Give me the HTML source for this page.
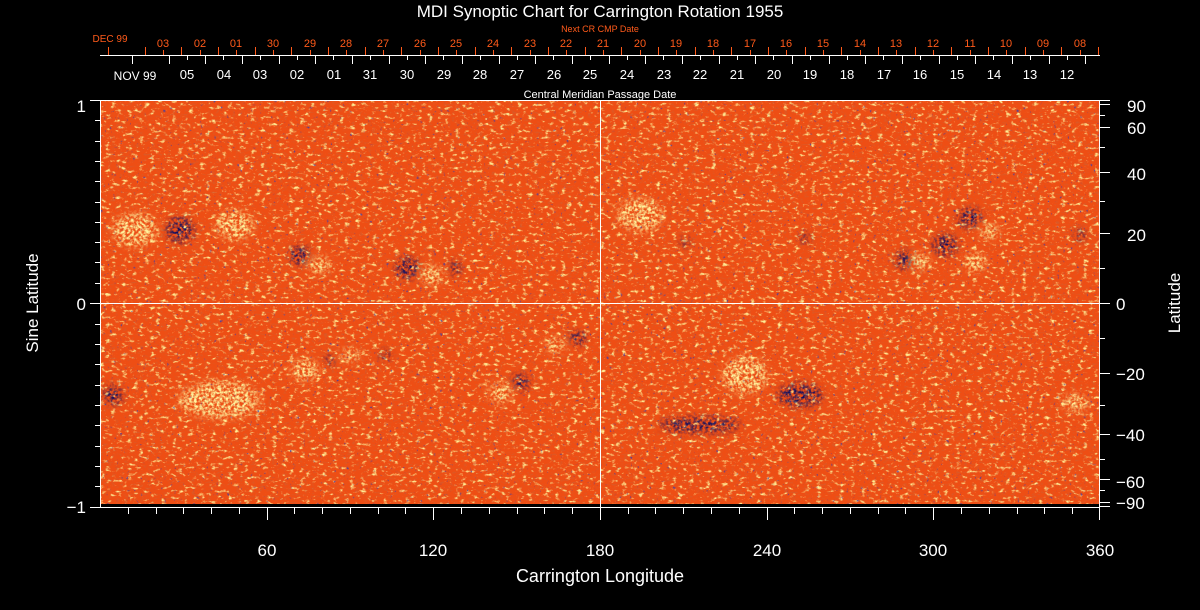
<!DOCTYPE html>
<html><head><meta charset="utf-8"><style>
html,body{margin:0;padding:0;background:#000;}
svg{display:block;font-family:"Liberation Sans",sans-serif;}
</style></head><body>
<svg width="1200" height="610" viewBox="0 0 1200 610" xmlns="http://www.w3.org/2000/svg">
<defs>
<filter id="yel" x="0" y="0" width="100%" height="100%">
<feTurbulence type="fractalNoise" baseFrequency="0.18 0.3" numOctaves="3" seed="3"/>
<feColorMatrix type="matrix" values="0 0 0 0 1  0 0 0 0 0.85  0 0 0 0 0.3  4 0 0 0 -2.3"/>
</filter>
<filter id="drk" x="0" y="0" width="100%" height="100%">
<feTurbulence type="fractalNoise" baseFrequency="0.25 0.5" numOctaves="3" seed="9"/>
<feColorMatrix type="matrix" values="0 0 0 0 0.7  0 0 0 0 0.1  0 0 0 0 0.02  0 4 0 0 -2.2"/>
</filter>
<filter id="blu" x="0" y="0" width="100%" height="100%">
<feTurbulence type="fractalNoise" baseFrequency="0.3" numOctaves="2" seed="17"/>
<feColorMatrix type="matrix" values="0 0 0 0 0.05  0 0 0 0 0.05  0 0 0 0 0.4  0 0 6 0 -4.2"/>
</filter>
<filter id="spk" x="-20%" y="-20%" width="140%" height="140%">
<feGaussianBlur in="SourceGraphic" stdDeviation="4" result="b"/>
<feTurbulence type="fractalNoise" baseFrequency="0.35" numOctaves="2" seed="5" result="t"/>
<feColorMatrix in="t" type="matrix" values="0 0 0 0 0  0 0 0 0 0  0 0 0 0 0  3 0 0 0 -1.1" result="m"/>
<feComposite in="b" in2="m" operator="in"/>
</filter>
</defs>
<text x="600" y="17" fill="#fff" font-size="17" text-anchor="middle">MDI Synoptic Chart for Carrington Rotation 1955</text>
<text x="600" y="32" fill="#ff5a1a" font-size="9" text-anchor="middle">Next CR CMP Date</text>
<text x="110" y="42" fill="#ff5a1a" font-size="10" text-anchor="middle">DEC 99</text>
<g fill="#ff5a1a" font-size="11" text-anchor="middle">
<text x="163" y="47">03</text><text x="200" y="47">02</text><text x="236" y="47">01</text><text x="273" y="47">30</text><text x="310" y="47">29</text><text x="346" y="47">28</text><text x="383" y="47">27</text><text x="420" y="47">26</text><text x="456" y="47">25</text><text x="493" y="47">24</text><text x="530" y="47">23</text><text x="566" y="47">22</text><text x="603" y="47">21</text><text x="640" y="47">20</text><text x="676" y="47">19</text><text x="713" y="47">18</text><text x="750" y="47">17</text><text x="786" y="47">16</text><text x="823" y="47">15</text><text x="860" y="47">14</text><text x="896" y="47">13</text><text x="933" y="47">12</text><text x="970" y="47">11</text><text x="1006" y="47">10</text><text x="1043" y="47">09</text><text x="1080" y="47">08</text>
</g>
<g stroke="#ff5a1a" stroke-width="1">
<path d="M108.5 47v8M145.5 47v8M181.5 47v8M218.5 47v8M255.5 47v8M291.5 47v8M328.5 47v8M365.5 47v8M401.5 47v8M438.5 47v8M475.5 47v8M511.5 47v8M548.5 47v8M585.5 47v8M621.5 47v8M658.5 47v8M695.5 47v8M731.5 47v8M768.5 47v8M805.5 47v8M841.5 47v8M878.5 47v8M915.5 47v8M951.5 47v8M988.5 47v8M1025.5 47v8M1061.5 47v8M1098.5 47v8"/>
<path d="M163.5 50v5M200.5 50v5M236.5 50v5M273.5 50v5M310.5 50v5M346.5 50v5M383.5 50v5M420.5 50v5M456.5 50v5M493.5 50v5M530.5 50v5M566.5 50v5M603.5 50v5M640.5 50v5M676.5 50v5M713.5 50v5M750.5 50v5M786.5 50v5M823.5 50v5M860.5 50v5M896.5 50v5M933.5 50v5M970.5 50v5M1006.5 50v5M1043.5 50v5M1080.5 50v5"/>
</g>
<line x1="100" y1="55.5" x2="1100" y2="55.5" stroke="#fff"/>
<g stroke="#fff">
<path d="M132.5 56v8M169.5 56v8M205.5 56v8M242.5 56v8M279.5 56v8M315.5 56v8M352.5 56v8M389.5 56v8M425.5 56v8M462.5 56v8M499.5 56v8M535.5 56v8M572.5 56v8M609.5 56v8M645.5 56v8M682.5 56v8M719.5 56v8M755.5 56v8M792.5 56v8M829.5 56v8M865.5 56v8M902.5 56v8M939.5 56v8M975.5 56v8M1012.5 56v8M1049.5 56v8M1085.5 56v8"/>
<path d="M187.5 56v4M223.5 56v4M260.5 56v4M297.5 56v4M333.5 56v4M370.5 56v4M407.5 56v4M443.5 56v4M480.5 56v4M517.5 56v4M553.5 56v4M590.5 56v4M627.5 56v4M663.5 56v4M700.5 56v4M737.5 56v4M773.5 56v4M810.5 56v4M847.5 56v4M883.5 56v4M920.5 56v4M957.5 56v4M993.5 56v4M1030.5 56v4M1067.5 56v4"/>
</g>
<text x="135" y="80" fill="#fff" font-size="12" text-anchor="middle">NOV 99</text>
<g fill="#fff" font-size="13" text-anchor="middle">
<text x="187" y="79">05</text><text x="224" y="79">04</text><text x="260" y="79">03</text><text x="297" y="79">02</text><text x="334" y="79">01</text><text x="370" y="79">31</text><text x="407" y="79">30</text><text x="444" y="79">29</text><text x="480" y="79">28</text><text x="517" y="79">27</text><text x="554" y="79">26</text><text x="590" y="79">25</text><text x="627" y="79">24</text><text x="664" y="79">23</text><text x="700" y="79">22</text><text x="737" y="79">21</text><text x="774" y="79">20</text><text x="810" y="79">19</text><text x="847" y="79">18</text><text x="884" y="79">17</text><text x="920" y="79">16</text><text x="957" y="79">15</text><text x="994" y="79">14</text><text x="1030" y="79">13</text><text x="1067" y="79">12</text>
</g>
<text x="600" y="98" fill="#fff" font-size="11" text-anchor="middle">Central Meridian Passage Date</text>
<!-- map -->
<rect x="101" y="101" width="998" height="403" fill="#ee4e14"/>
<rect x="101" y="101" width="998" height="403" filter="url(#drk)"/>
<rect x="101" y="101" width="998" height="403" filter="url(#yel)"/>
<rect x="101" y="101" width="998" height="403" filter="url(#blu)" opacity="0.8"/>
<g filter="url(#spk)">
<g fill="#fff6a0">
<ellipse cx="135" cy="230" rx="22" ry="16"/><ellipse cx="235" cy="225" rx="18" ry="14"/><ellipse cx="320" cy="265" rx="10" ry="8"/><ellipse cx="432" cy="275" rx="10" ry="9"/><ellipse cx="640" cy="215" rx="22" ry="16"/><ellipse cx="920" cy="262" rx="9" ry="8"/><ellipse cx="975" cy="262" rx="10" ry="9"/><ellipse cx="990" cy="232" rx="9" ry="7"/><ellipse cx="305" cy="370" rx="13" ry="10"/><ellipse cx="350" cy="355" rx="9" ry="6"/><ellipse cx="500" cy="393" rx="11" ry="9"/><ellipse cx="555" cy="345" rx="9" ry="7"/><ellipse cx="745" cy="375" rx="22" ry="18"/><ellipse cx="1075" cy="403" rx="12" ry="8"/><ellipse cx="220" cy="400" rx="40" ry="18"/>
</g>
<g fill="#0c0c60">
<ellipse cx="180" cy="230" rx="14" ry="12"/><ellipse cx="300" cy="255" rx="10" ry="9"/><ellipse cx="408" cy="268" rx="12" ry="10"/><ellipse cx="455" cy="268" rx="5" ry="7"/><ellipse cx="685" cy="242" rx="4" ry="4"/><ellipse cx="805" cy="238" rx="5" ry="4"/><ellipse cx="905" cy="260" rx="9" ry="9"/><ellipse cx="945" cy="245" rx="12" ry="10"/><ellipse cx="970" cy="218" rx="12" ry="9"/><ellipse cx="1080" cy="235" rx="5" ry="5"/><ellipse cx="520" cy="382" rx="9" ry="7"/><ellipse cx="577" cy="338" rx="9" ry="6"/><ellipse cx="385" cy="355" rx="5" ry="4"/><ellipse cx="330" cy="360" rx="5" ry="4"/><ellipse cx="800" cy="395" rx="22" ry="11"/><ellipse cx="700" cy="425" rx="40" ry="7"/><ellipse cx="113" cy="395" rx="9" ry="9"/>
</g>
</g>
<line x1="600.5" y1="100" x2="600.5" y2="508" stroke="#fff"/>
<line x1="100" y1="303.5" x2="1100" y2="303.5" stroke="#fff"/>
<rect x="100.5" y="100.5" width="999" height="407" fill="none" stroke="#fff"/>
<g stroke="#fff">
<path d="M90 100.5h10M90 303.5h10M90 507.5h10M95 120.5h5M95 141.5h5M95 161.5h5M95 181.5h5M95 202.5h5M95 222.5h5M95 242.5h5M95 262.5h5M95 283.5h5M95 324.5h5M95 344.5h5M95 364.5h5M95 385.5h5M95 405.5h5M95 425.5h5M95 446.5h5M95 466.5h5M95 486.5h5"/>
</g>
<g fill="#fff" font-size="17" text-anchor="end">
<text x="86" y="112">1</text><text x="86" y="310">0</text><text x="86" y="513">−1</text>
</g>
<text transform="translate(38,303) rotate(-90)" fill="#fff" font-size="17" text-anchor="middle">Sine Latitude</text>
<g stroke="#fff">
<path d="M1100 100.5h10M1100 104.5h10M1100 127.5h10M1100 172.5h10M1100 233.5h10M1100 303.5h10M1100 373.5h10M1100 434.5h10M1100 479.5h10M1100 502.5h10M1100 506.5h10M1100 147.5h5M1100 201.5h5M1100 268.5h5M1100 338.5h5M1100 405.5h5M1100 459.5h5M1100 490.5h5M1100 115.5h5"/>
</g>
<g fill="#fff" font-size="17">
<text x="1127" y="112">90</text><text x="1127" y="134">60</text><text x="1127" y="180">40</text><text x="1127" y="241">20</text><text x="1116" y="310">0</text><text x="1116" y="380">−20</text><text x="1116" y="441">−40</text><text x="1116" y="488">−60</text><text x="1116" y="509">−90</text>
</g>
<text transform="translate(1180,303) rotate(-90)" fill="#fff" font-size="17" text-anchor="middle">Latitude</text>
<g stroke="#fff">
<path d="M267.5 508v12M433.5 508v12M600.5 508v12M767.5 508v12M933.5 508v12M1099.5 508v12"/>
<path d="M128.5 508v6M156.5 508v6M183.5 508v6M211.5 508v6M239.5 508v6M294.5 508v6M322.5 508v6M350.5 508v6M378.5 508v6M405.5 508v6M461.5 508v6M489.5 508v6M517.5 508v6M544.5 508v6M572.5 508v6M628.5 508v6M655.5 508v6M683.5 508v6M711.5 508v6M739.5 508v6M794.5 508v6M822.5 508v6M850.5 508v6M878.5 508v6M905.5 508v6M961.5 508v6M989.5 508v6M1017.5 508v6M1044.5 508v6M1072.5 508v6"/>
</g>
<g fill="#fff" font-size="17" text-anchor="middle">
<text x="267" y="556">60</text><text x="433" y="556">120</text><text x="600" y="556">180</text><text x="767" y="556">240</text><text x="933" y="556">300</text><text x="1100" y="556">360</text>
</g>
<text x="600" y="582" fill="#fff" font-size="18" text-anchor="middle">Carrington Longitude</text>
</svg>
</body></html>
